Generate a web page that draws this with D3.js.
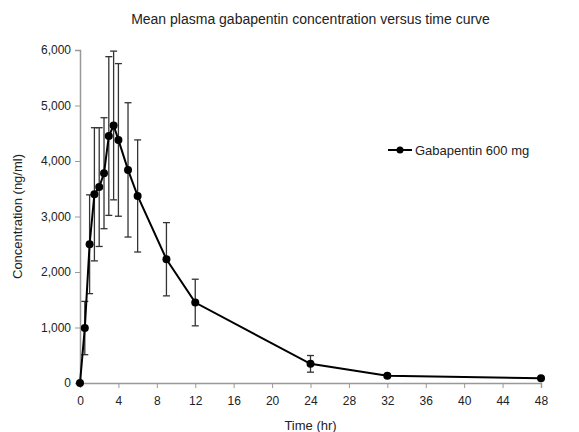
<!DOCTYPE html>
<html>
<head>
<meta charset="utf-8">
<script src="https://cdn.jsdelivr.net/npm/d3@7"></script>
<style>
  body { margin: 0; background: #fff; }
  svg { font-family: "Liberation Sans", Arial, sans-serif; }
</style>
</head>
<body>
<svg id="chart"></svg>
<script>
// data
var times = [0, 0.5, 1, 1.5, 2, 2.5, 3, 3.5, 4, 5, 6, 9, 12, 24, 32, 48]
var meanConc = [0, 990, 2500, 3400, 3530, 3780, 4450, 4640, 4380, 3840, 3370, 2230, 1450, 345, 130, 85]
var sdConc = [0, 480, 890, 1200, 1070, 1000, 1430, 1340, 1375, 1210, 1010, 660, 420, 150, 30, 20]
var xTicks = [0, 4, 8, 12, 16, 20, 24, 28, 32, 36, 40, 44, 48]
var yTicks = [0, 1000, 2000, 3000, 4000, 5000, 6000]
var seriesName = "Gabapentin 600 mg"

var width = 579;
var height = 432;

var margin = {
  top: 50,
  bottom: 49,
  left: 80,
  right: 38
}
var bodyHeight = height - margin.top - margin.bottom;
var bodyWidth = width - margin.left - margin.right;

var points = times.map((t, i) => ({t: t, c: meanConc[i], sd: sdConc[i]}))

var svg = d3.select("#chart")
  .attr("width", width)
  .attr("height", height)

var xScale = d3.scaleLinear()
  .domain([0, 48])
  .range([0, bodyWidth])

var yScale = d3.scaleLinear()
  .domain([0, 6000])
  .range([bodyHeight, 0])

var body = svg.append("g")
  .attr("transform", `translate(${margin.left},${margin.top})`)

// axes
var xAxis = d3.axisBottom(xScale).tickValues(xTicks).tickSize(5).tickPadding(8)
var yAxis = d3.axisLeft(yScale).tickValues(yTicks).tickSize(5).tickPadding(4)
  .tickFormat(d3.format(","))

var gx = body.append("g")
  .attr("transform", `translate(0,${bodyHeight})`)
  .call(xAxis)
var gy = body.append("g").call(yAxis)

svg.selectAll(".domain").attr("stroke", "#999").attr("stroke-width", 1.5)
svg.selectAll(".tick line").attr("stroke", "#999").attr("stroke-width", 1)
svg.selectAll(".tick text")
  .attr("fill", "#222")
  .style("font-size", "12px")
  .style("font-family", "Liberation Sans, Arial, sans-serif")

// error bars
var capW = 3.5
var eb = body.append("g").selectAll("g").data(points.filter(d => d.sd > 0))
  .enter().append("g")
  .attr("stroke", "#333")
  .attr("stroke-width", 1.3)
eb.append("line")
  .attr("x1", d => xScale(d.t)).attr("x2", d => xScale(d.t))
  .attr("y1", d => yScale(d.c + d.sd)).attr("y2", d => yScale(d.c - d.sd))
eb.append("line")
  .attr("x1", d => xScale(d.t) - capW).attr("x2", d => xScale(d.t) + capW)
  .attr("y1", d => yScale(d.c + d.sd)).attr("y2", d => yScale(d.c + d.sd))
eb.append("line")
  .attr("x1", d => xScale(d.t) - capW).attr("x2", d => xScale(d.t) + capW)
  .attr("y1", d => yScale(d.c - d.sd)).attr("y2", d => yScale(d.c - d.sd))

// the curve
var line = d3.line().x(d => xScale(d.t)).y(d => yScale(d.c))
body.append("path")
  .datum(points)
  .attr("d", line)
  .attr("fill", "none")
  .attr("stroke", "#000")
  .attr("stroke-width", 2)

body.selectAll(".dot").data(points)
  .enter().append("circle")
  .attr("class", "dot")
  .attr("cx", d => xScale(d.t))
  .attr("cy", d => yScale(d.c))
  .attr("r", 4)
  .attr("fill", "#000")

// legend
var legend = svg.append("g").attr("transform", "translate(388,150)")
legend.append("line").attr("x1", 0).attr("x2", 24).attr("y1", 0).attr("y2", 0)
  .attr("stroke", "#000").attr("stroke-width", 2)
legend.append("circle").attr("cx", 12).attr("cy", 0).attr("r", 3.5).attr("fill", "#000")
legend.append("text").attr("x", 27).attr("y", 4.5)
  .style("font-size", "13px").attr("fill", "#222")
  .text(seriesName)

// title and axis labels
svg.append("text")
  .attr("x", margin.left + bodyWidth / 2).attr("y", 24)
  .attr("text-anchor", "middle")
  .style("font-size", "14px").attr("fill", "#222")
  .text("Mean plasma gabapentin concentration versus time curve")

svg.append("text")
  .attr("x", margin.left + bodyWidth / 2).attr("y", height - 2)
  .attr("text-anchor", "middle")
  .style("font-size", "13px").attr("fill", "#222")
  .text("Time (hr)")

svg.append("text")
  .attr("transform", `translate(22,${margin.top + bodyHeight / 2}) rotate(-90)`)
  .attr("text-anchor", "middle")
  .style("font-size", "13px").attr("fill", "#222")
  .text("Concentration (ng/ml)")
</script>
</body>
</html>
